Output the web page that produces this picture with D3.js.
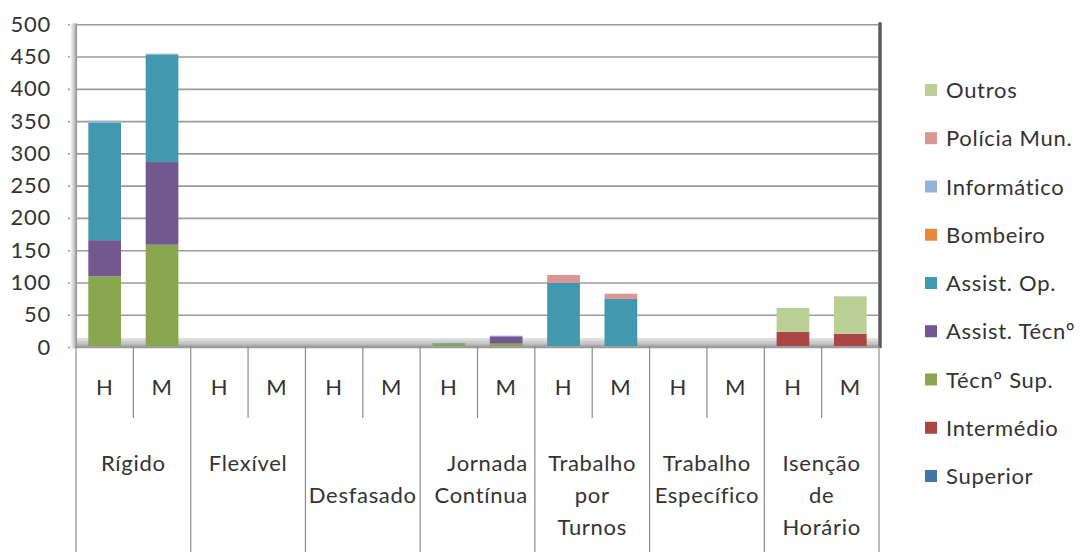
<!DOCTYPE html>
<html>
<head>
<meta charset="utf-8">
<script src="https://cdn.jsdelivr.net/npm/d3@7"></script>
<style>
  html, body { margin: 0; padding: 0; background: #fff; }
  svg text { font-family: Lato, "Open Sans", sans-serif; fill: #333; font-weight: 400; letter-spacing: 0.7px; }
</style>
</head>
<body>
<svg id="chart" width="1085" height="552"></svg>
<script>
// ---- data ----
const categories = ["Rígido", "Flexível", "Desfasado", "Jornada Contínua", "Trabalho por Turnos", "Trabalho Específico", "Isenção de Horário"];
const categoryLines = [["Rígido"], ["Flexível"], ["", "Desfasado"], ["Jornada", "Contínua"], ["Trabalho", "por", "Turnos"], ["Trabalho", "Específico"], ["Isenção", "de", "Horário"]];
const genders = ["H", "M"];
const seriesNames = ["Superior", "Intermédio", "Técnº Sup.", "Assist. Técnº", "Assist. Op.", "Bombeiro", "Informático", "Polícia Mun.", "Outros"];
const seriesColors = ["#4572a7", "#aa4643", "#89a54e", "#71588f", "#4198af", "#e6893d", "#95b3d7", "#d99694", "#b9cf96"];
// values per series, order: Rígido H, M, Flexível H, M, Desfasado H, M, Jornada H, M, Turnos H, M, Específico H, M, Isenção H, M
const superior     = [0, 0, 0, 0, 0, 0, 0, 0, 0, 0, 0, 0, 0, 0];
const intermedio   = [0, 0, 0, 0, 0, 0, 0, 0, 0, 0, 0, 0, 22, 19];
const tecnSup      = [108, 157, 0, 0, 0, 0, 3, 4, 0, 0, 0, 0, 0, 0];
const assistTecn   = [56, 128, 0, 0, 0, 0, 0, 11, 0, 0, 0, 0, 0, 0];
const assistOp     = [182, 166, 0, 0, 0, 0, 1, 0, 98, 73, 0, 0, 0, 0];
const bombeiro     = [0, 0, 0, 0, 0, 0, 0, 0, 0, 0, 0, 0, 0, 0];
const informatico  = [3, 2, 0, 0, 0, 0, 0, 1, 0, 0, 0, 0, 0, 0];
const policiaMun   = [0, 0, 0, 0, 0, 0, 0, 0, 12, 8, 0, 0, 0, 0];
const outros       = [0, 0, 0, 0, 0, 0, 0, 0, 0, 0, 0, 0, 37, 58];
const yTicks = [0, 50, 100, 150, 200, 250, 300, 350, 400, 450, 500];

const seriesValues = [superior, intermedio, tecnSup, assistTecn, assistOp, bombeiro, informatico, policiaMun, outros];

// ---- layout ----
const svg = d3.select("#chart");
const plotLeft = 76, plotRight = 879, plotTop = 24.3, zeroY = 347;
const fontSize = 22;
const categoryAnchor = ["middle", "middle", "middle", "end", "middle", "middle", "middle"];

const slots = [];
categories.forEach(c => genders.forEach(g => slots.push(c + "|" + g)));
const rows = slots.map((s, i) => {
  const r = { key: s };
  seriesNames.forEach((n, j) => r[n] = seriesValues[j][i]);
  return r;
});

const xSlot = d3.scaleBand().domain(slots).range([plotLeft, plotRight]).paddingInner(0).paddingOuter(0);
const xCat = d3.scaleBand().domain(categories).range([plotLeft, plotRight]);
const y = d3.scaleLinear().domain([0, 500]).range([zeroY, plotTop]);

const defs = svg.append("defs");
const gl = defs.append("linearGradient").attr("id", "wallL").attr("x1", 0).attr("x2", 1);
gl.append("stop").attr("offset", "0%").attr("stop-color", "#ffffff");
gl.append("stop").attr("offset", "60%").attr("stop-color", "#c8c8c8");
gl.append("stop").attr("offset", "100%").attr("stop-color", "#8a8a8a");
const gf = defs.append("linearGradient").attr("id", "floor").attr("x1", 0).attr("x2", 0).attr("y1", 0).attr("y2", 1);
gf.append("stop").attr("offset", "0%").attr("stop-color", "#e4e4e4");
gf.append("stop").attr("offset", "55%").attr("stop-color", "#c4c4c4");
gf.append("stop").attr("offset", "100%").attr("stop-color", "#8e8e8e");
const gr = defs.append("linearGradient").attr("id", "wallR").attr("x1", 0).attr("x2", 1);
gr.append("stop").attr("offset", "0%").attr("stop-color", "#9a9a9a");
gr.append("stop").attr("offset", "50%").attr("stop-color", "#444");
gr.append("stop").attr("offset", "100%").attr("stop-color", "#9a9a9a");

// floor band
svg.append("rect").attr("x", plotLeft - 6).attr("y", zeroY - 9).attr("width", plotRight - plotLeft + 6).attr("height", 10)
  .attr("fill", "url(#floor)");

// gridlines + y tick labels
const yAxis = d3.axisLeft(y).tickValues(yTicks).tickSize(-(plotRight - plotLeft + 8)).tickPadding(17);
const ga = svg.append("g").attr("transform", `translate(${plotLeft - 8},0)`).call(yAxis);
ga.select(".domain").remove();
ga.selectAll(".tick line").attr("stroke", "#9a9a9a").attr("stroke-width", 1.6);
ga.selectAll(".tick text").attr("font-size", fontSize).attr("fill", "#333").attr("font-family", null);

// left wall
svg.append("rect").attr("x", plotLeft - 6).attr("y", plotTop - 1).attr("width", 7).attr("height", zeroY - plotTop + 2)
  .attr("fill", "url(#wallL)");
// right wall edge
svg.append("rect").attr("x", plotRight - 1).attr("y", plotTop - 2).attr("width", 4).attr("height", zeroY - plotTop + 3)
  .attr("fill", "url(#wallR)");

// bars
const stack = d3.stack().keys(seriesNames);
const stacked = stack(rows);
const barW = xSlot.bandwidth() * 0.57;
svg.append("g").selectAll("g").data(stacked).join("g")
  .attr("fill", (d, i) => seriesColors[i])
  .selectAll("rect").data(d => d.filter(p => p[1] - p[0] > 0)).join("rect")
  .attr("x", d => xSlot(d.data.key) + (xSlot.bandwidth() - barW) / 2)
  .attr("width", barW)
  .attr("y", d => y(d[1]) - 1)
  .attr("height", d => y(d[0]) - y(d[1]));

// lower axis lines
const axisTop = zeroY - 1;
const sep = svg.append("g").attr("stroke", "#8c8c8c").attr("stroke-width", 1.2);
d3.range(slots.length + 1).forEach(i => {
  const x = plotLeft + i * xSlot.bandwidth();
  const major = i % 2 === 0;
  sep.append("line").attr("x1", x).attr("x2", x).attr("y1", axisTop).attr("y2", major ? 552 : 418);
});

// H/M labels
svg.append("g").selectAll("text").data(slots).join("text")
  .attr("x", d => xSlot(d) + xSlot.bandwidth() / 2)
  .attr("y", 395)
  .attr("text-anchor", "middle")
  .attr("font-size", fontSize)
  .text(d => d.split("|")[1]);

// category labels
const lineYs = [471, 503, 535];
const cg = svg.append("g");
categories.forEach((c, i) => {
  const anchor = categoryAnchor[i];
  const x = anchor === "end" ? xCat(c) + xCat.bandwidth() - 7 : xCat(c) + xCat.bandwidth() / 2;
  categoryLines[i].forEach((ln, k) => {
    if (!ln) return;
    cg.append("text")
      .attr("x", x)
      .attr("y", lineYs[k])
      .attr("text-anchor", anchor)
      .attr("font-size", fontSize)
      .text(ln);
  });
});

// legend (reverse order, Outros on top)
const legendOrder = seriesNames.map((n, i) => ({ n, c: seriesColors[i] })).reverse();
const leg = svg.append("g");
const ly = d3.scaleLinear().domain([0, legendOrder.length - 1]).range([90, 476]);
legendOrder.forEach((d, i) => {
  leg.append("rect").attr("x", 925).attr("y", ly(i) - 6).attr("width", 12).attr("height", 12).attr("fill", d.c);
  leg.append("text").attr("x", 946).attr("y", ly(i) + 8).attr("font-size", fontSize).text(d.n);
});
</script>
</body>
</html>
